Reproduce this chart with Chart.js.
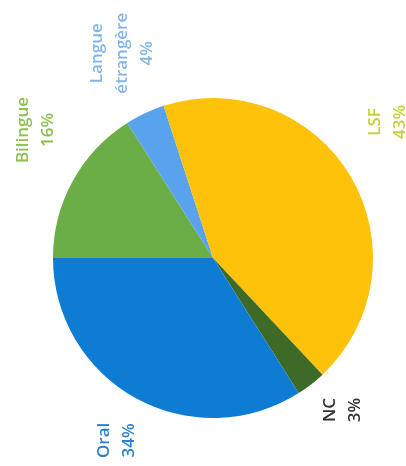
<!DOCTYPE html>
<html>
<head>
<meta charset="utf-8">
<script src="https://cdn.jsdelivr.net/npm/chart.js@4.4.1/dist/chart.umd.min.js"></script>
<style>
  html, body { margin: 0; padding: 0; background: #fff; }
  #wrap { width: 406px; height: 466px; position: relative; }
</style>
</head>
<body>
<div id="wrap"><canvas id="pieChart"></canvas></div>
<script>
const categories = ['Bilingue', 'Langue étrangère', 'LSF', 'NC', 'Oral'];
const shares = [16, 4, 43, 3, 34];
const labelLines = [['Bilingue', '16%'], ['Langue', 'étrangère', '4%'], ['LSF', '43%'], ['NC', '3%'], ['Oral', '34%']];

const sliceColors = ['#6aae45', '#58a3ec', '#ffc20a', '#3d6b27', '#0f7cd3'];
const textColors = ['#8cc152', '#82b6e6', '#c9cf3a', '#333333', '#2f80c8'];
// label anchor, as a fraction of the radius from the pie centre
const labelAnchor = [[-1.11, -0.80], [-0.57, -1.28], [1.09, -0.85], [0.81, 0.95], [-0.60, 1.14]];

// rotated labels, drawn after the slices
const rotatedLabels = {
  id: 'rotatedLabels',
  afterDatasetsDraw(chart) {
    const ctx = chart.ctx;
    const arc = chart.getDatasetMeta(0).data[0];
    const cx = arc.x, cy = arc.y, r = arc.outerRadius;
    ctx.save();
    ctx.font = '600 17px "Open Sans", sans-serif';
    ctx.textAlign = 'center';
    ctx.textBaseline = 'middle';
    const lh = 25;
    labelLines.forEach((lines, i) => {
      const x = cx + labelAnchor[i][0] * r;
      const y = cy + labelAnchor[i][1] * r;
      ctx.save();
      ctx.translate(x, y);
      ctx.rotate(-Math.PI / 2);
      ctx.fillStyle = textColors[i];
      const start = -(lines.length - 1) * lh / 2;
      lines.forEach((t, j) => ctx.fillText(t, 0, start + j * lh));
      ctx.restore();
    });
    ctx.restore();
  }
};

const ctxPie = document.getElementById('pieChart').getContext('2d');
new Chart(ctxPie, {
  type: 'pie',
  data: {
    labels: categories,
    datasets: [{
      data: shares,
      backgroundColor: sliceColors,
      borderWidth: 0,
    }]
  },
  options: {
    responsive: true,
    maintainAspectRatio: false,
    animation: false,
    rotation: -90,
    layout: {
      padding: { left: 53, right: 33, top: 98, bottom: 48 }
    },
    plugins: {
      legend: { display: false },
      tooltip: { enabled: false },
    }
  },
  plugins: [rotatedLabels]
});
</script>
</body>
</html>
